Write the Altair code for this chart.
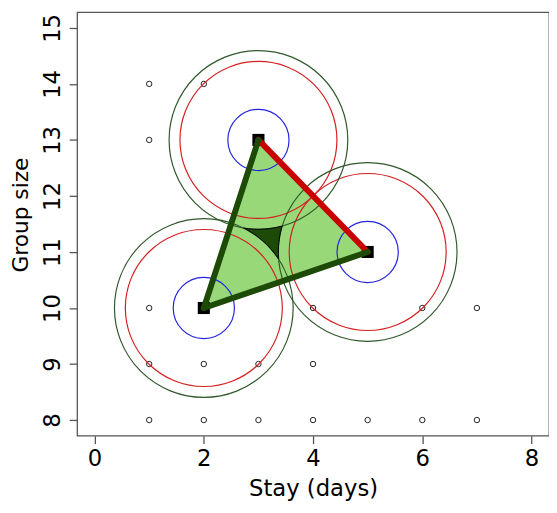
import math
import altair as alt
import pandas as pd

# ---- data ----
grid_x = [1, 2, 1, 1, 1, 2, 3, 4, 6, 7, 4, 1, 2, 3, 4, 5, 6, 7]
grid_y = [14, 14, 13, 10, 9, 9, 9, 10, 10, 10, 9, 8, 8, 8, 8, 8, 8, 8]
vert_x = [2, 3, 5]
vert_y = [10, 13, 11]
green_edges = [(0, 1), (0, 2)]
red_edges = [(1, 2)]
x_ticks = [0, 2, 4, 6, 8]
y_ticks = [8, 9, 10, 11, 12, 13, 14, 15]
x_domain = [-0.32, 8.32]
y_domain = [7.72, 15.28]

# ---- styling ----
W, H = 478, 429
R_GREEN, R_RED, R_BLUE = 90.5, 79.5, 31   # circle radii in pixels
FONT = "DejaVu Sans"
LIGHT = "#98d878"
DARK = "#1d4a06"
CIRC_GREEN = "#2f5a2a"
CIRC_RED = "#d42020"
CIRC_BLUE = "#2525e0"
EDGE_RED = "#c80000"

sx = W / (x_domain[1] - x_domain[0])
sy = H / (y_domain[1] - y_domain[0])


def to_px(x, y):
    return ((x - x_domain[0]) * sx, (y_domain[1] - y) * sy)


def to_data(px, py):
    return (px / sx + x_domain[0], y_domain[1] - py / sy)


centers = [to_px(x, y) for x, y in zip(vert_x, vert_y)]
gcx = sum(c[0] for c in centers) / 3
gcy = sum(c[1] for c in centers) / 3


def inner_intersection(a, b, r):
    (x1, y1), (x2, y2) = a, b
    dx, dy = x2 - x1, y2 - y1
    d = math.hypot(dx, dy)
    h = math.sqrt(max(r * r - (d / 2) ** 2, 0.0))
    mx, my = x1 + dx / 2, y1 + dy / 2
    p1 = (mx - h * dy / d, my + h * dx / d)
    p2 = (mx + h * dy / d, my - h * dx / d)
    return min([p1, p2], key=lambda p: math.hypot(p[0] - gcx, p[1] - gcy))


def arc(center, p, q, r, n=24):
    a0 = math.atan2(p[1] - center[1], p[0] - center[0])
    a1 = math.atan2(q[1] - center[1], q[0] - center[0])
    da = (a1 - a0 + math.pi) % (2 * math.pi) - math.pi
    return [(center[0] + r * math.cos(a0 + da * t / n),
             center[1] + r * math.sin(a0 + da * t / n)) for t in range(n + 1)]


A, B, C = centers
P_ab = inner_intersection(A, B, R_GREEN)
P_bc = inner_intersection(B, C, R_GREEN)
P_ca = inner_intersection(C, A, R_GREEN)
pts = arc(B, P_ab, P_bc, R_GREEN) + arc(C, P_bc, P_ca, R_GREEN) + arc(A, P_ca, P_ab, R_GREEN)
hole = pd.DataFrame([dict(zip(("x", "y"), to_data(*p)), i=i) for i, p in enumerate(pts)])

grid_df = pd.DataFrame({"x": grid_x, "y": grid_y})
vert_df = pd.DataFrame({"x": vert_x, "y": vert_y})
tri_df = pd.DataFrame({"x": vert_x + [vert_x[0]], "y": vert_y + [vert_y[0]], "i": [0, 1, 2, 3]})


def edges_df(edges):
    rows = []
    for k, (a, b) in enumerate(edges):
        rows.append({"x": vert_x[a], "y": vert_y[a], "e": k, "i": 0})
        rows.append({"x": vert_x[b], "y": vert_y[b], "e": k, "i": 1})
    return pd.DataFrame(rows)


X = alt.X("x:Q", scale=alt.Scale(domain=x_domain, nice=False, zero=False),
          axis=alt.Axis(values=x_ticks, title="Stay (days)", labelFontSize=23,
                        labelBaseline="top", labelPadding=4, titleX=W / 2, titleY=61,
                        titleAlign="center", titleBaseline="alphabetic", titleFontSize=23))
Y = alt.Y("y:Q", scale=alt.Scale(domain=y_domain, nice=False, zero=False),
          axis=alt.Axis(values=y_ticks, title="Group size", labelFontSize=23,
                        labelAngle=270, labelAlign="center", labelBaseline="alphabetic",
                        labelPadding=10, titleAngle=270, titleX=-50, titleY=205,
                        titleAlign="center", titleBaseline="alphabetic", titleFontSize=22))

grid_layer = alt.Chart(grid_df).mark_point(shape="circle", filled=False, size=30,
                                           stroke="#222", strokeWidth=1, opacity=1).encode(x=X, y=Y)
tri_layer = alt.Chart(tri_df).mark_line(fill=LIGHT, strokeWidth=0, stroke=LIGHT).encode(
    x=X, y=Y, order="i:Q")


def circles(r, col):
    return alt.Chart(vert_df).mark_point(shape="circle", filled=False, size=(2 * r) ** 2,
                                         stroke=col, strokeWidth=1.2, opacity=1).encode(x=X, y=Y)


hole_layer = alt.Chart(hole).mark_line(fill=DARK, stroke="black", strokeWidth=1).encode(
    x=X, y=Y, order="i:Q")
square_layer = alt.Chart(vert_df).mark_point(shape="square", filled=True, size=150,
                                             color="black", opacity=1).encode(x=X, y=Y)
red_layer = alt.Chart(edges_df(red_edges)).mark_line(color=EDGE_RED, strokeWidth=6,
                                                     strokeCap="round").encode(
    x=X, y=Y, detail="e:N", order="i:Q")
green_layer = alt.Chart(edges_df(green_edges)).mark_line(color=DARK, strokeWidth=6,
                                                         strokeCap="round").encode(
    x=X, y=Y, detail="e:N", order="i:Q")

chart = alt.layer(
    grid_layer, tri_layer,
    circles(R_BLUE, CIRC_BLUE), circles(R_RED, CIRC_RED), circles(R_GREEN, CIRC_GREEN),
    hole_layer, square_layer, red_layer, green_layer,
).properties(
    width=W, height=H,
    autosize=alt.AutoSizeParams(type="none"),
    padding={"left": 70, "top": 1, "right": 0, "bottom": 75},
    background="white",
).configure_view(
    stroke="#555", strokeWidth=1.3,
).configure_axis(
    domain=False, grid=False, tickSize=8, tickColor="#555", tickWidth=1.3,
    labelFont=FONT, titleFont=FONT, labelColor="black", titleColor="black",
    titleFontWeight="normal", labelFlush=False, labelOverlap=False,
)

chart.save("out.html", embed_options={"renderer": "svg", "actions": False})
